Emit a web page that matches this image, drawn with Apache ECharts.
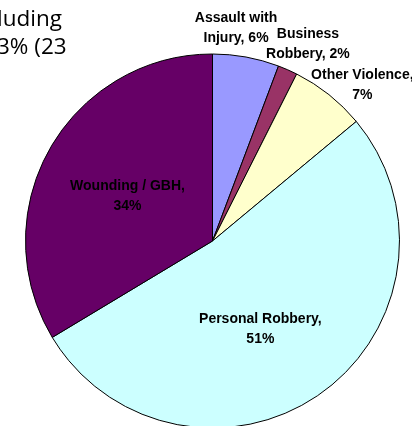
<!DOCTYPE html>
<html>
<head>
<meta charset="utf-8">
<script src="https://cdn.jsdelivr.net/npm/echarts@6/dist/echarts.min.js"></script>
<style>
html,body{margin:0;padding:0;background:#fff;}
#chart{width:412px;height:426px;}
</style>
</head>
<body>
<div id="chart"></div>
<script>
// Data (clockwise from 12 o'clock)
const categories = ['Assault with\nInjury', 'Business\nRobbery', 'Other Violence', 'Personal Robbery', 'Wounding / GBH'];
const values = [5.74, 1.69, 6.53, 52.42, 33.62];
const shownPct = [6, 2, 7, 51, 34];
const colors = ['#9999FF', '#993366', '#FFFFCC', '#CCFFFF', '#660066'];
const titleLines = ['luding', '3% (23'];

const outside = [true, true, true, false, false];
const labelShift = [[-15, -1], [9, 0], [16, 12], [-8, 9], [-1, 3]];

const chart = echarts.init(document.getElementById('chart'), null, {renderer: 'canvas'});
chart.setOption({
  backgroundColor: '#ffffff',
  animation: false,
  title: {
    text: titleLines.join('\n'),
    left: -3,
    top: 6,
    padding: 0,
    textStyle: {fontFamily: 'Open Sans', fontSize: 22.5, fontWeight: 'normal', color: '#000', lineHeight: 28}
  },
  series: [{
    type: 'pie',
    center: [212.5, 241],
    radius: 187,
    startAngle: 90,
    clockwise: true,
    avoidLabelOverlap: false,
    itemStyle: {borderColor: '#000', borderWidth: 1},
    label: {
      fontFamily: 'Liberation Sans',
      fontWeight: 'bold',
      fontSize: 14,
      lineHeight: 20,
      color: '#000',
      distanceToLabelLine: 0,
      alignTo: 'none',
      formatter: function (p) {
        const name = categories[p.dataIndex];
        const pct = shownPct[p.dataIndex] + '%';
        return name.indexOf('\n') >= 0 ? name + ', ' + pct : name + ',\n' + pct;
      }
    },
    labelLine: {show: false, length: 28, length2: 0},
    labelLayout: function (p) {
      const s = labelShift[p.dataIndex];
      return {dx: s[0], dy: s[1], align: 'center', verticalAlign: 'middle'};
    },
    data: categories.map(function (c, i) {
      return {
        name: c,
        value: values[i],
        itemStyle: {color: colors[i]},
        label: {position: outside[i] ? 'outside' : 'inside'}
      };
    })
  }]
});
</script>
</body>
</html>
